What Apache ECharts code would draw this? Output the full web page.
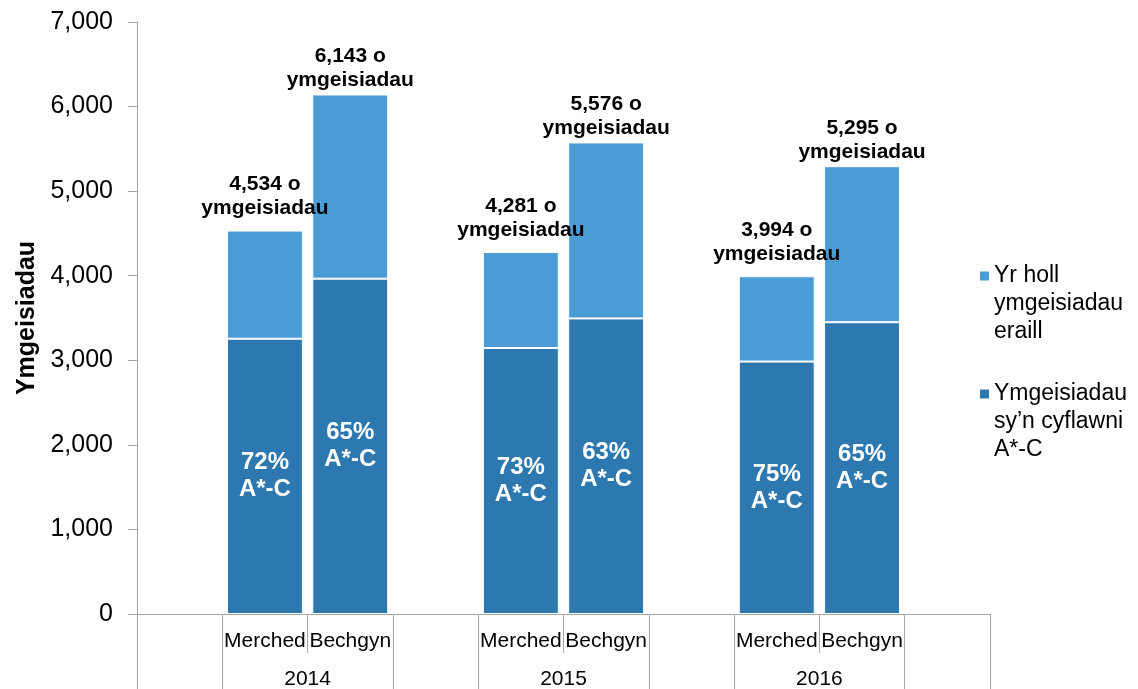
<!DOCTYPE html>
<html>
<head>
<meta charset="utf-8">
<script src="https://cdn.jsdelivr.net/npm/echarts@6/dist/echarts.min.js"></script>
<style>
html,body{margin:0;padding:0;background:#fff;}
#chart{width:1138px;height:689px;}
</style>
</head>
<body>
<div id="chart"></div>
<script>
// Slots: empty spacer, Merched, Bechgyn for each year, trailing spacer
var categories = ['', 'Merched', 'Bechgyn', '', 'Merched', 'Bechgyn', '', 'Merched', 'Bechgyn', ''];
var years = ['2014', '2015', '2016'];
var yearSlots = [2, 5, 8];           // boundary between Merched/Bechgyn slots (in slot units)
var groupBoundaries = [0, 1, 3, 4, 6, 7, 9, 10];
var totals = [null, 4534, 6143, null, 4281, 5576, null, 3994, 5295, null];
var achievedAC = [null, 3255, 3965, null, 3145, 3495, null, 2985, 3450, null];
var pctLabels = [null, '72%', '65%', null, '73%', '63%', null, '75%', '65%', null];
var seriesNames = ['Ymgeisiadau\nsy\u2019n cyflawni\nA*-C', 'Yr holl\nymgeisiadau\neraill'];
var yTicks = { min: 0, max: 7000, interval: 1000 };

var FONT = "'Liberation Sans', Arial, sans-serif";
var DARK = '#2E78B0';
var LIGHT = '#4B9BD5';
var AXIS = '#a6a6a6';

// top segment = total minus A*-C; label gap a bit larger above the Merched bars (as in source)
var othersData = totals.map(function (t, i) {
  if (t == null) return null;
  return { value: t - achievedAC[i], label: { distance: categories[i] === 'Merched' ? 10 : 2 } };
});

var chart = echarts.init(document.getElementById('chart'), null, { renderer: 'canvas' });
chart.setOption({
  animation: false,
  textStyle: { fontFamily: FONT },
  grid: { left: 137, right: 148, top: 22, bottom: 75, containLabel: false, outerBoundsMode: 'none' },
  legend: {
    orient: 'vertical',
    left: 975,
    top: 201,
    icon: 'rect',
    itemWidth: 9,
    itemHeight: 9,
    itemGap: -22,
    data: [seriesNames[1], seriesNames[0]],
    itemStyle: { borderWidth: 0 },
    formatter: function (name) { return '\n\n' + name; },
    textStyle: { fontFamily: FONT, fontSize: 23, color: '#000', lineHeight: 28 },
    selectedMode: false
  },
  xAxis: [
    {
      type: 'category',
      data: categories,
      position: 'bottom',
      axisLine: { show: true, lineStyle: { color: AXIS, width: 1 } },
      axisTick: { show: true, alignWithLabel: false, interval: 0, length: 39, lineStyle: { color: AXIS } },
      axisLabel: { interval: 0, margin: 17, fontSize: 21, color: '#000', fontFamily: FONT },
      splitLine: { show: false }
    },
    {
      type: 'value',
      min: 0,
      max: 10,
      position: 'bottom',
      axisLine: { show: false },
      axisTick: { show: true, customValues: groupBoundaries, length: 75, lineStyle: { color: AXIS } },
      axisLabel: {
        show: true,
        customValues: yearSlots,
        margin: 55,
        fontSize: 21,
        color: '#000',
        fontFamily: FONT,
        formatter: function (v) { return years[yearSlots.indexOf(v)] || ''; }
      },
      splitLine: { show: false }
    }
  ],
  yAxis: {
    type: 'value',
    min: yTicks.min,
    max: yTicks.max,
    interval: yTicks.interval,
    name: 'Ymgeisiadau',
    nameLocation: 'middle',
    nameRotate: 90,
    nameGap: 95,
    nameTextStyle: { fontSize: 25, fontWeight: 'bold', color: '#000', fontFamily: FONT },
    axisLine: { show: true, lineStyle: { color: AXIS, width: 1 } },
    axisTick: { show: true, length: 9, lineStyle: { color: AXIS } },
    axisLabel: {
      margin: 24,
      fontSize: 25,
      color: '#000',
      fontFamily: FONT,
      formatter: function (v) { return v.toLocaleString('en-US'); }
    },
    splitLine: { show: false }
  },
  series: [
    {
      name: seriesNames[0],
      type: 'bar',
      stack: 'total',
      xAxisIndex: 0,
      barWidth: '89%',
      data: achievedAC,
      itemStyle: { color: DARK, borderColor: '#fff', borderWidth: 1 },
      label: {
        show: true,
        position: 'inside',
        color: '#fff',
        fontSize: 24,
        fontWeight: 'bold',
        lineHeight: 27,
        fontFamily: FONT,
        formatter: function (p) { return pctLabels[p.dataIndex] + '\nA*-C'; }
      }
    },
    {
      name: seriesNames[1],
      type: 'bar',
      stack: 'total',
      xAxisIndex: 0,
      barWidth: '89%',
      data: othersData,
      itemStyle: { color: LIGHT, borderColor: '#fff', borderWidth: 1 },
      label: {
        show: true,
        position: 'top',
        distance: 2,
        color: '#000',
        fontSize: 21,
        fontWeight: 'bold',
        lineHeight: 24,
        fontFamily: FONT,
        formatter: function (p) { return totals[p.dataIndex].toLocaleString('en-US') + ' o\nymgeisiadau'; }
      }
    }
  ]
});
</script>
</body>
</html>
